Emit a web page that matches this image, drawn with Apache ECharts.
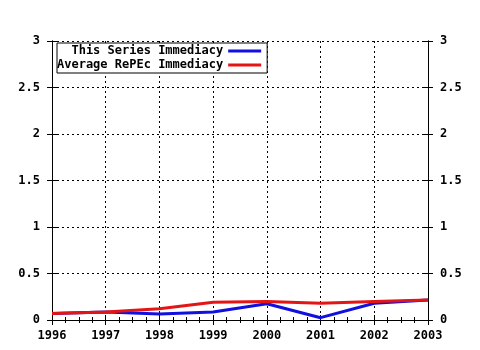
<!DOCTYPE html>
<html><head><meta charset="utf-8">
<script src="https://cdn.jsdelivr.net/npm/echarts@6/dist/echarts.min.js"></script>
<style>html,body{margin:0;padding:0;background:#fff}#c{width:480px;height:350px}</style>
</head><body><div id="c"></div>
<script>
var years = [1996, 1997, 1998, 1999, 2000, 2001, 2002, 2003];
var seriesValues = [0.07, 0.085, 0.065, 0.085, 0.175, 0.025, 0.18, 0.215];
var repecValues = [0.07, 0.085, 0.12, 0.19, 0.2, 0.18, 0.2, 0.215];
var seriesNames = ['This Series Immediacy', 'Average RePEc Immediacy'];
var yTicks = [0, 0.5, 1, 1.5, 2, 2.5, 3];

var FONT = 'DejaVu Sans Mono';
function pairs(v){ return years.map(function(y,i){ return [y, v[i]]; }); }
var chart = echarts.init(document.getElementById('c'), null, {renderer:'canvas'});
var lbl = {fontFamily: FONT, fontWeight: 'bold', fontSize: 12, color: '#000'};
function xAx(pos, inside, labels, grid) {
  return {
    type: 'value', position: pos, min: 1996, max: 2003, interval: 1,
    axisLine: {show: true, lineStyle: {color: '#000', width: 1}},
    axisTick: {show: true, inside: inside, length: 5, lineStyle: {color: '#000'}},
    minorTick: {show: !inside, splitNumber: 4, length: 3, lineStyle: {color: '#000'}},
    axisLabel: labels ? Object.assign({show: true, margin: 10, formatter: function(v){return String(v);}}, lbl) : {show: false},
    splitLine: {show: grid, lineStyle: {color: '#000', type: [2, 3], width: 1}},
    minorSplitLine: {show: false}
  };
}
function yAx(pos, inside, labels, grid) {
  return {
    type: 'value', position: pos, min: 0, max: 3, interval: 0.5,
    axisLine: {show: true, onZero: false, lineStyle: {color: '#000', width: 1}},
    axisTick: {show: true, inside: inside, length: 5, lineStyle: {color: '#000'}},
    axisLabel: labels ? Object.assign({show: true, margin: 12, formatter: function(v){return String(v);}}, lbl) : {show: false},
    splitLine: {show: grid, lineStyle: {color: '#000', type: [2, 3], width: 1}}
  };
}
chart.setOption({
  animation: false,
  backgroundColor: '#fff',
  grid: {left: 52, right: 52, top: 41, bottom: 30, containLabel: false},
  xAxis: [
    xAx('bottom', false, true, true),
    xAx('top', false, false, false),
    xAx('bottom', true, false, false)
  ],
  yAxis: [
    yAx('left', false, true, true),
    yAx('right', false, true, false),
    yAx('left', true, false, false),
    yAx('right', true, false, false)
  ],
  legend: {
    show: true, orient: 'vertical', left: 57, top: 43, align: 'right',
    backgroundColor: '#fff', borderColor: '#000', borderWidth: 1, borderRadius: 0,
    padding: [2, 6, 2, 0], itemGap: 2, itemWidth: 33, itemHeight: 3, icon: 'rect',
    data: seriesNames,
    formatter: function(n){ var s = n; while (s.length < 23) s = ' ' + s; return s; },
    textStyle: {fontFamily: FONT, fontWeight: 'bold', fontSize: 12, color: '#000', padding: [0, 0, 0, 0]}
  },
  series: [
    {name: seriesNames[1], type: 'line', data: pairs(repecValues), symbol: 'none',
     lineStyle: {color: '#e41515', width: 3}, itemStyle: {color: '#e41515'}, z: 3},
    {name: seriesNames[0], type: 'line', data: pairs(seriesValues), symbol: 'none',
     lineStyle: {color: '#1010e0', width: 3}, itemStyle: {color: '#1010e0'}, z: 2}
  ]
});
</script></body></html>
